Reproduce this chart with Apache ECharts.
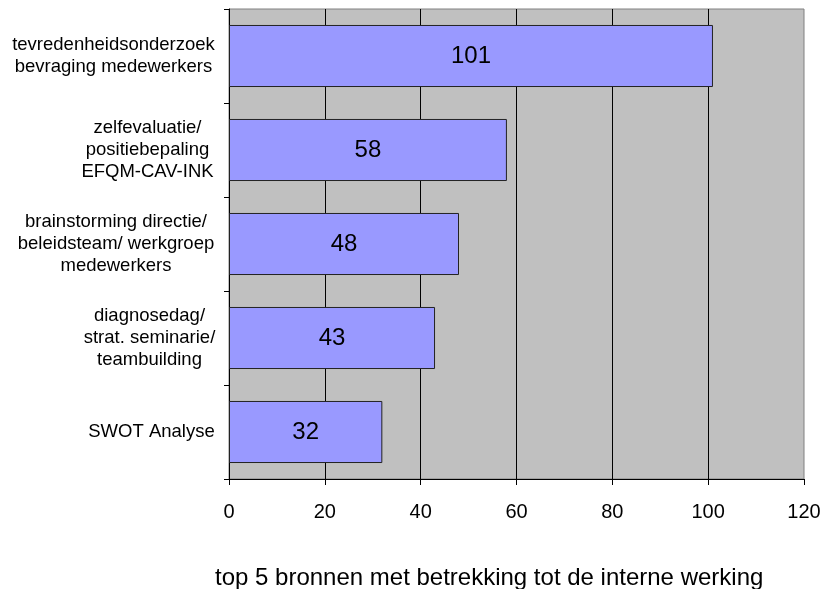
<!DOCTYPE html>
<html>
<head>
<meta charset="utf-8">
<script src="https://cdn.jsdelivr.net/npm/echarts@6/dist/echarts.min.js"></script>
<style>html,body{margin:0;padding:0;background:#fff}#c{width:828px;height:589px}</style>
</head>
<body>
<div id="c"></div>
<script>
const categories = [
  "tevredenheidsonderzoek\nbevraging medewerkers",
  "zelfevaluatie/\npositiebepaling\nEFQM-CAV-INK",
  "brainstorming directie/\nbeleidsteam/ werkgroep\nmedewerkers",
  "diagnosedag/\nstrat. seminarie/\nteambuilding",
  "SWOT Analyse"
];
const values = [101, 58, 48, 43, 32];
const xTicks = [0, 20, 40, 60, 80, 100, 120];
const titleText = "top 5 bronnen met betrekking tot de interne werking";

const labelWidths = [203, 135, 198, 131, 127];
const rich = {};
labelWidths.forEach((w, i) => {
  rich['l' + i] = { width: w, align: 'center', fontSize: 18.5, lineHeight: 22, fontFamily: 'Liberation Sans, Arial', color: '#000' };
});

const chart = echarts.init(document.getElementById('c'), null, {renderer: 'canvas'});
chart.setOption({
  animation: false,
  backgroundColor: '#fff',
  title: {
    text: titleText,
    left: 210, top: 561,
    textStyle: { fontFamily: 'Liberation Sans, Arial', fontSize: 24, fontWeight: 'normal', color: '#000' }
  },
  grid: {
    left: 229, right: 24, top: 9, bottom: 110,
    show: true, backgroundColor: '#C0C0C0', borderColor: '#808080', borderWidth: 1
  },
  xAxis: {
    type: 'value', min: xTicks[0], max: xTicks[xTicks.length - 1], interval: xTicks[1] - xTicks[0],
    axisLine: { show: true, lineStyle: { color: '#000', width: 1 } },
    axisTick: { show: true, length: 6, lineStyle: { color: '#000' } },
    axisLabel: { margin: 23, fontSize: 20, fontFamily: 'Liberation Sans, Arial', color: '#000' },
    splitLine: { show: true, showMinLine: false, showMaxLine: false, lineStyle: { color: '#000', width: 1 } }
  },
  yAxis: {
    type: 'category', data: categories, inverse: true,
    axisLine: { show: true, lineStyle: { color: '#000', width: 1 } },
    axisTick: { show: true, length: 5, lineStyle: { color: '#000' } },
    axisLabel: {
      margin: 14, align: 'right',
      formatter: function (v, idx) {
        return v.split('\n').map(s => '{l' + idx + '|' + s + '}').join('\n');
      },
      rich: rich
    },
    splitLine: { show: false }
  },
  series: [{
    type: 'bar', data: values, barCategoryGap: '34%',
    itemStyle: { color: '#9999FF', borderColor: '#222', borderWidth: 1 },
    label: { show: true, position: 'inside', fontSize: 24, fontFamily: 'Liberation Sans, Arial', color: '#000' }
  }]
});
</script>
</body>
</html>
